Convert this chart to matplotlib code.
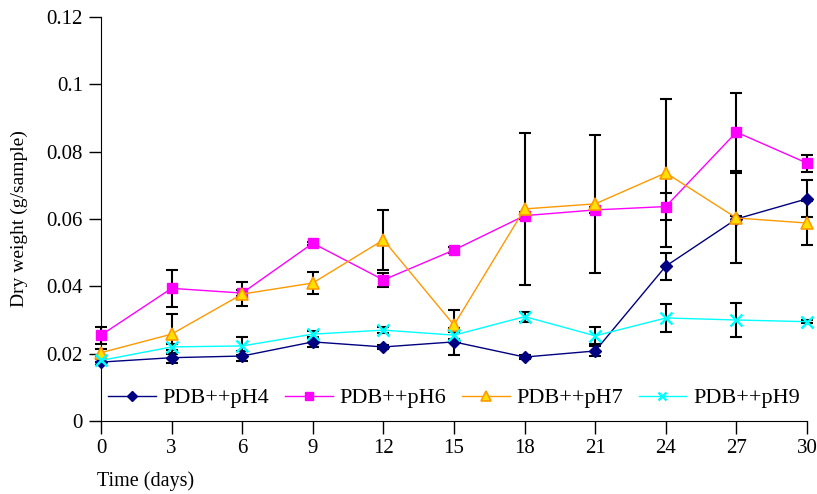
import numpy as np
from matplotlib import pyplot as plt

plt.rcParams['font.family'] = ['Liberation Serif', 'DejaVu Serif']

#sampling days
days = [0, 3, 6, 9, 12, 15, 18, 21, 24, 27, 30]

#mean dry weight (g/sample) and error for each pH
ph4 = [0.0175, 0.0188, 0.0193, 0.0235, 0.0220, 0.0235, 0.0190, 0.0208, 0.0460, 0.0600, 0.0660]
ph4_err = [0.0010, 0.0015, 0.0015, 0.0015, 0.0005, 0.0040, 0.0005, 0.0015, 0.0040, 0.0010, 0.0055]

ph6 = [0.0255, 0.0394, 0.0380, 0.0528, 0.0419, 0.0508, 0.0610, 0.0627, 0.0637, 0.0858, 0.0766]
ph6_err = [0.0025, 0.0054, 0.0010, 0.0005, 0.0021, 0.0010, 0.0010, 0.0010, 0.0040, 0.0115, 0.0025]

ph7 = [0.0203, 0.0258, 0.0377, 0.0410, 0.0538, 0.0285, 0.0630, 0.0645, 0.0737, 0.0603, 0.0588]
ph7_err = [0.0010, 0.0060, 0.0035, 0.0033, 0.0088, 0.0045, 0.0225, 0.0205, 0.0220, 0.0135, 0.0065]

ph9 = [0.0180, 0.0220, 0.0223, 0.0258, 0.0270, 0.0255, 0.0310, 0.0253, 0.0306, 0.0300, 0.0295]
ph9_err = [0.0005, 0.0010, 0.0027, 0.0010, 0.0010, 0.0010, 0.0015, 0.0025, 0.0043, 0.0050, 0.0005]

labels = ['PDB++pH4', 'PDB++pH6', 'PDB++pH7', 'PDB++pH9']
yticks = [0, 0.02, 0.04, 0.06, 0.08, 0.1, 0.12]
ytick_labels = ['0', '0.02', '0.04', '0.06', '0.08', '0.1', '0.12']

fig = plt.figure(figsize=(8.17, 4.94), dpi=100)
ax = fig.add_axes([101/817, 73/494, 706/817, 404/494])

#error bars first (black), then lines with markers on top
for y, e in [(ph4, ph4_err), (ph6, ph6_err), (ph7, ph7_err), (ph9, ph9_err)]:
    ax.errorbar(days, y, yerr=e, fmt='none', ecolor='black', elinewidth=1.5,
                capsize=4.5, capthick=1.5, zorder=2, clip_on=False)

ax.plot(days, ph4, '-', color='#000080', lw=1, marker='D', ms=6.5,
        mfc='#000080', mec='#000080', label=labels[0], zorder=3, clip_on=False)
ax.plot(days, ph6, '-', color='#FF00FF', lw=1, marker='s', ms=7.5,
        mfc='#FF00FF', mec='#FF00FF', label=labels[1], zorder=3, clip_on=False)
ax.plot(days, ph7, '-', color='#FF9900', lw=1, marker='^', ms=9,
        mfc='#FFE000', mec='#FF9900', mew=1.2, label=labels[2], zorder=3, clip_on=False)
ax.plot(days, ph9, '-', color='#00FFFF', lw=1, marker='x', ms=8, mew=1.8,
        mec='#00FFFF', label=labels[3], zorder=3, clip_on=False)

ax.set_xlim(0, 30)
ax.set_ylim(0, 0.12)
ax.set_xticks(days)
ax.set_yticks(yticks)
ax.set_yticklabels(ytick_labels)
ax.tick_params(labelsize=15, length=9, width=1, direction='out', pad=4)
ax.spines['top'].set_visible(False)
ax.spines['right'].set_visible(False)

ax.set_ylabel('Dry weight (g/sample)', fontsize=14)
ax.yaxis.set_label_coords(-0.104, 0.5)
fig.text(97/817, 13/494, 'Time (days)', fontsize=14.5, ha='left', va='center')

leg = ax.legend(loc='center', bbox_to_anchor=(0.5, 23/404), ncol=4, frameon=False,
                fontsize=16, handlelength=2.15, columnspacing=0.7, handletextpad=0.3,
                markerscale=0.8, borderpad=0, borderaxespad=0)

fig.savefig('out.png', dpi=100)
